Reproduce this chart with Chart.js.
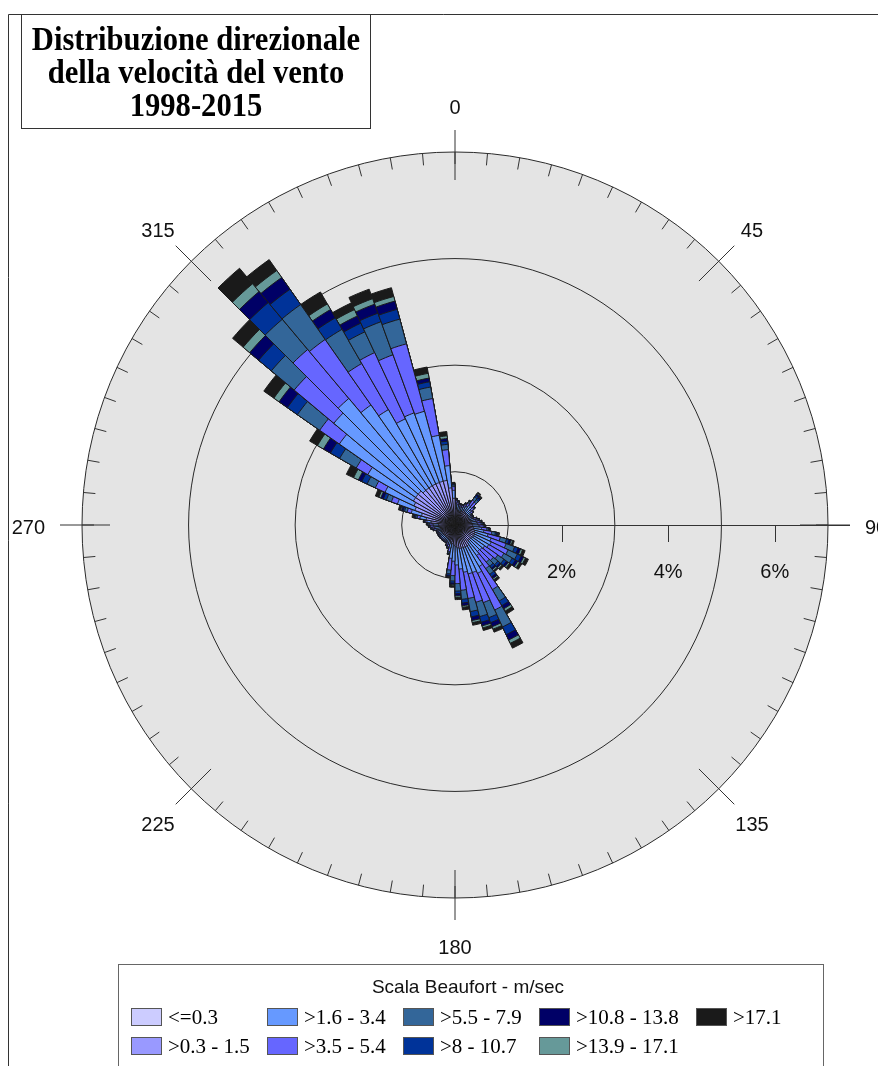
<!DOCTYPE html>
<html>
<head>
<meta charset="utf-8">
<script src="https://cdn.jsdelivr.net/npm/chart.js@4.4.1/dist/chart.umd.min.js"></script>
<style>
  html, body { margin: 0; padding: 0; background: #fff; overflow: hidden; }
  #rose { display: block; }
</style>
</head>
<body>
<canvas id="rose" width="878" height="1066"></canvas>
<script>
// sector start angles (5 degree sectors, clockwise from north)
const directions = Array.from({length: 72}, (_, i) => i * 5);

const speedClasses = ['<=0.3', '>0.3 - 1.5', '>1.6 - 3.4', '>3.5 - 5.4', '>5.5 - 7.9',
                      '>8 - 10.7', '>10.8 - 13.8', '>13.9 - 17.1', '>17.1'];
const classColors = ['#ccccff', '#9999ff', '#6699ff', '#6666ff', '#336699',
                     '#003399', '#000066', '#669999', '#1a1a1a'];

// frequency (%) of each speed class per sector
const calm = [.05,.05,.05,.05,.05,.05,.05,.05,.05,.05,.05,.05,
  .05,.05,.05,.05,.05,.05,.05,.05,.05,.05,.05,.05,
  .05,.05,.05,.05,.05,.05,.05,.05,.05,.05,.05,.05,
  .05,.05,.05,.05,.05,.05,.05,.05,.05,.05,.05,.05,
  .05,.05,.05,.05,.05,.05,.05,.1,.1,.1,.1,.1,
  .1,.1,.1,.1,.1,.1,.1,.1,.1,.1,.1,.1];
const lightAir = [.25,.24,.22,.22,.22,.24,.26,.25,.24,.25,.24,.23,
  .23,.23,.24,.25,.26,.27,.28,.3,.3,.33,.35,.35,
  .35,.33,.33,.33,.35,.4,.4,.4,.4,.4,.38,.35,
  .33,.3,.27,.24,.23,.22,.22,.22,.22,.22,.22,.22,
  .22,.22,.22,.23,.24,.25,.26,.35,.45,.55,.7,.75,
  .8,.8,.8,.75,.75,.75,.75,.75,.75,.75,.6,.4];
const lightBreeze = [.1,.09,.08,.08,.08,.09,.1,.15,.15,.1,.08,.06,
  .06,.06,.08,.09,.1,.1,.12,.15,.2,.26,.32,.35,
  .33,.3,.28,.27,.3,.45,.55,.5,.5,.45,.4,.35,
  .3,.28,.12,.09,.08,.06,.06,.06,.06,.06,.06,.06,
  .06,.06,.06,.08,.09,.1,.1,.08,.12,.2,.35,.6,
  .99,1.75,2.07,2.25,1.9,1.65,1.35,1.39,1.36,.86,.42,.15];
const gentleBreeze = [.06,.05,.04,.04,.04,.05,.07,.12,.12,.06,.04,.02,
  .02,.02,.04,.05,.06,.07,.08,.1,.15,.24,.3,.35,
  .33,.3,.28,.26,.3,.5,.76,.6,.55,.5,.4,.35,
  .27,.22,.07,.05,.04,.02,.02,.02,.02,.02,.02,.02,
  .02,.02,.02,.04,.05,.06,.07,.03,.05,.08,.12,.2,
  .25,.45,.97,1.2,1.5,1.0,1.37,1.16,1.31,.7,.3,.07];
const moderateBreeze = [.02,.02,.01,.01,.01,.02,.03,.07,.06,.02,.01,.01,
  .01,.01,.01,.02,.02,.03,.025,.03,.07,.12,.17,.19,
  .18,.14,.11,.1,.13,.25,.35,.3,.28,.25,.17,.14,
  .1,.07,.03,.02,.01,.01,.01,.01,.01,.01,.01,.01,
  .01,.01,.01,.01,.02,.02,.03,.015,.03,.05,.1,.17,
  .36,.51,.56,.74,.8,.74,.43,.66,.48,.22,.1,.03];
const freshBreeze = [.01,.01,.01,.01,.01,.01,.01,.04,.04,.01,.01,.01,
  .01,.01,.01,.01,.01,.01,.01,.015,.03,.05,.07,.08,
  .07,.06,.05,.05,.06,.1,.16,.1,.11,.1,.07,.05,
  .04,.03,.01,.01,.01,.01,.01,.01,.01,.01,.01,.01,
  .01,.01,.01,.01,.01,.01,.01,.01,.02,.03,.06,.11,
  .2,.23,.31,.41,.35,.25,.18,.17,.19,.1,.06,.02];
const strongBreeze = [.01,0,0,0,0,0,.01,.03,.03,.01,0,0,
  0,0,0,0,.01,.01,.005,.01,.02,.04,.05,.05,
  .05,.04,.03,.03,.04,.07,.11,.08,.07,.07,.05,.04,
  .03,.02,.01,0,0,0,0,0,0,0,0,0,
  0,0,0,0,0,.01,.01,.005,.02,.03,.05,.07,
  .15,.19,.22,.27,.27,.18,.15,.18,.16,.07,.05,.01];
const nearGale = [0,0,0,0,0,0,.005,.02,.01,0,0,0,
  0,0,0,0,0,.005,.005,.005,.015,.03,.04,.04,
  .04,.03,.03,.03,.03,.05,.07,.05,.04,.04,.03,.03,
  .02,.01,.005,0,0,0,0,0,0,0,0,0,
  0,0,0,0,0,0,.005,.005,.01,.02,.04,.1,
  .13,.12,.16,.19,.16,.12,.13,.11,.09,.09,.05,.01];
const gale = [0,0,0,0,0,0,.005,.02,.02,0,0,0,
  0,0,0,0,0,.005,.005,.01,.015,.03,.05,.06,
  .05,.05,.04,.03,.04,.06,.1,.06,.05,.05,.05,.04,
  .03,.02,.005,0,0,0,0,0,0,0,0,0,
  0,0,0,0,0,0,.005,.005,.02,.04,.07,.15,
  .17,.23,.26,.38,.25,.26,.14,.19,.17,.12,.08,.01];

const classValues = [calm, lightAir, lightBreeze, gentleBreeze, moderateBreeze,
                     freshBreeze, strongBreeze, nearGale, gale];

const ringValues = [0, 1, 3, 5, 7];
const percentTicks = [2, 4, 6];
const compassLabels = [0, 45, 90, 135, 180, 225, 270, 315];
const titleLines = ['Distribuzione direzionale', 'della velocità del vento', '1998-2015'];
const legendTitle = 'Scala Beaufort - m/sec';

// stacked rose: each dataset holds the running total up to its class,
// dataset 0 is drawn last so the smaller totals sit on top
let running = directions.map(() => 0);
const datasets = classValues.map((vals, k) => {
  running = running.map((v, i) => v + vals[i]);
  return {
    label: speedClasses[k],
    data: running.map(v => Math.round(v * 1000) / 1000),
    backgroundColor: classColors[k],
    borderColor: '#1a1a1a',
    borderWidth: 1
  };
});

const roseDecor = {
  id: 'roseDecor',
  beforeDatasetsDraw(chart) {
    const ctx = chart.ctx, s = chart.scales.r, R = s.drawingArea;
    const at = (deg, rad) => {
      const a = (deg - 90) * Math.PI / 180;
      return [s.xCenter + Math.cos(a) * rad, s.yCenter + Math.sin(a) * rad];
    };
    ctx.save();
    ctx.strokeStyle = '#333';
    ctx.lineWidth = 1;
    ctx.beginPath();
    directions.forEach(d => {
      const p1 = at(d, R - 12), p2 = at(d, R);
      ctx.moveTo(p1[0], p1[1]); ctx.lineTo(p2[0], p2[1]);
    });
    compassLabels.forEach(d => {
      const p1 = at(d, R - 28), p2 = at(d, R + 22);
      ctx.moveTo(p1[0], p1[1]); ctx.lineTo(p2[0], p2[1]);
    });
    ctx.moveTo(s.xCenter, s.yCenter + 0.5);
    ctx.lineTo(s.xCenter + R + 22, s.yCenter + 0.5);
    percentTicks.forEach(v => {
      const x = Math.round(s.xCenter + s.getDistanceFromCenterForValue(v)) + 0.5;
      ctx.moveTo(x, s.yCenter); ctx.lineTo(x, s.yCenter + 17);
    });
    ctx.stroke();
    ctx.restore();
  },
  afterDraw(chart) {
    const ctx = chart.ctx, s = chart.scales.r, R = s.drawingArea;
    ctx.save();
    ctx.fillStyle = '#111';
    ctx.textAlign = 'center';
    ctx.textBaseline = 'middle';

    // compass labels
    ctx.font = '20px "Liberation Sans", Arial, sans-serif';
    compassLabels.forEach(d => {
      const a = d * Math.PI / 180, txt = String(d);
      const hw = ctx.measureText(txt).width / 2;
      const r = Math.abs(Math.cos(a)) < 0.01 ? R + 37 + hw : R + 47;
      ctx.fillText(txt, s.xCenter + Math.sin(a) * r, s.yCenter - Math.cos(a) * r + 3);
    });
    // percent labels under the east axis
    percentTicks.forEach(v => {
      ctx.fillText(v + '%', s.xCenter + s.getDistanceFromCenterForValue(v), s.yCenter + 47);
    });

    // page frame and title box
    ctx.strokeStyle = '#333';
    ctx.lineWidth = 1;
    ctx.beginPath();
    ctx.moveTo(8.5, 1066); ctx.lineTo(8.5, 14.5); ctx.lineTo(878, 14.5);
    ctx.stroke();
    ctx.strokeRect(21.5, 14.5, 349, 114);
    ctx.fillStyle = '#000';
    ctx.textBaseline = 'alphabetic';
    ctx.font = 'bold 34px "Liberation Serif", "Times New Roman", serif';
    titleLines.forEach((line, i) => {
      ctx.save();
      ctx.translate(196, 50 + i * 33);
      ctx.scale(0.9, 1);
      ctx.fillText(line, 0, 0);
      ctx.restore();
    });

    // legend
    ctx.strokeStyle = '#666';
    ctx.strokeRect(118.5, 964.5, 705, 200);
    ctx.fillStyle = '#111';
    ctx.textBaseline = 'middle';
    ctx.font = '19px "Liberation Sans", Arial, sans-serif';
    ctx.fillText(legendTitle, 468, 988);
    const colX = [131, 267, 403, 539, 696], rowY = [1008, 1037];
    ctx.textAlign = 'left';
    ctx.font = '21px "Liberation Serif", "Times New Roman", serif';
    chart.data.datasets.forEach((ds, k) => {
      const x = colX[Math.floor(k / 2)], y = rowY[k % 2];
      ctx.fillStyle = ds.backgroundColor;
      ctx.fillRect(x, y, 31, 18);
      ctx.strokeStyle = '#555';
      ctx.strokeRect(x + 0.5, y + 0.5, 30, 17);
      ctx.fillStyle = '#000';
      ctx.fillText(ds.label, x + 37, y + 10);
    });
    ctx.restore();
  }
};

new Chart(document.getElementById('rose'), {
  type: 'polarArea',
  data: { labels: directions, datasets: datasets },
  plugins: [roseDecor],
  options: {
    responsive: false,
    animation: false,
    devicePixelRatio: 1,
    events: [],
    layout: { padding: { left: 82, right: 50, top: 152, bottom: 168 } },
    plugins: { legend: { display: false }, tooltip: { enabled: false } },
    scales: {
      r: {
        min: 0,
        max: 7,
        startAngle: 0,
        backgroundColor: '#e4e4e4',
        afterBuildTicks: (scale) => { scale.ticks = ringValues.map(v => ({ value: v })); },
        ticks: { display: false },
        pointLabels: { display: false },
        angleLines: { display: false },
        grid: { circular: true, color: '#2a2a2a', lineWidth: 1 }
      }
    }
  }
});
</script>
</body>
</html>
